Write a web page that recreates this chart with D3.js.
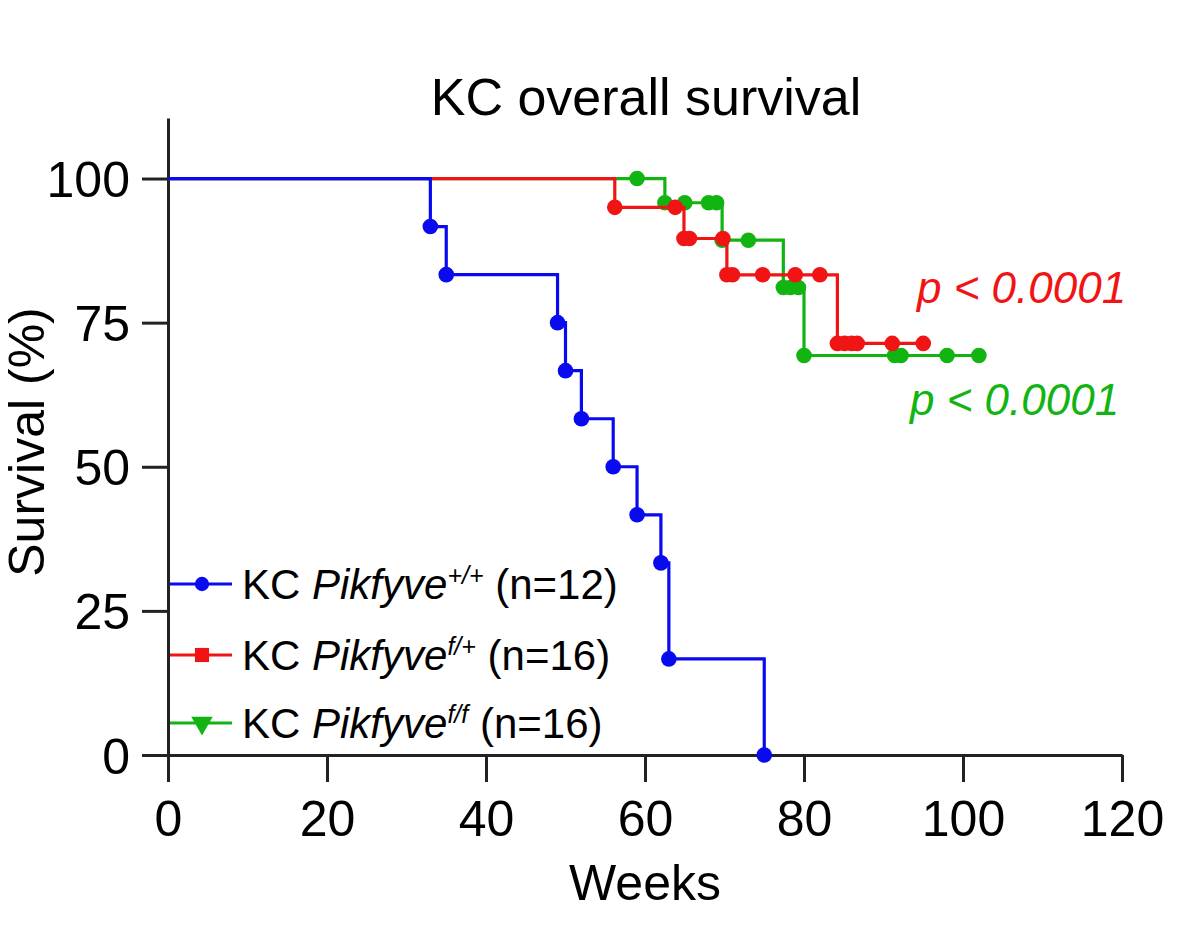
<!DOCTYPE html>
<html>
<head>
<meta charset="utf-8">
<script src="https://cdn.jsdelivr.net/npm/d3@7"></script>
<style>
  body { margin: 0; background: #fff; }
  svg text { font-family: "Liberation Sans", Arial, sans-serif; }
</style>
</head>
<body>
<div id="chart"></div>
<script>
// KC Pikfyve +/+ (all deaths, no censoring)
var blueTimes = [0, 33, 35, 49, 50, 52, 56, 59, 62, 63, 75];
var blueSurv  = [100, 91.67, 83.33, 75, 66.67, 58.33, 50, 41.67, 33.33, 16.67, 0];

// KC Pikfyve f/+
var redTimes = [0, 56.2, 64.9, 70.3, 84.2];
var redSurv  = [100, 95, 89.6, 83.3, 71.4];
var redEnd = 95;
var redCensor = [63.8, 65.6, 69.8, 71, 74.8, 78.9, 82, 85.1, 86, 86.7, 91.1, 95];

// KC Pikfyve f/f
var greenTimes = [0, 62.5, 69.7, 77.4, 80];
var greenSurv  = [100, 95.8, 89.3, 81.1, 69.3];
var greenEnd = 102;
var greenCensor = [59, 65, 68, 69, 73, 78.3, 79.3, 91.4, 92.2, 98, 102];

var xTicks = [0, 20, 40, 60, 80, 100, 120];
var yTicks = [0, 25, 50, 75, 100];

var legendLabels = ['+/+', 'f/+', 'f/f'];
var legendN = [12, 16, 16];

var svgWidth = 1200;
var svgHeight = 926;

var blue = '#0a0af0';
var red = '#f01414';
var green = '#12b412';

var x = d3.scaleLinear().domain([0, 120]).range([168, 1122]);
var y = d3.scaleLinear().domain([0, 110.5]).range([755, 118]);

var svg = d3.select('#chart').append('svg')
	.attr('width', svgWidth)
	.attr('height', svgHeight);

// title
svg.append('text')
	.attr('x', 646).attr('y', 115)
	.attr('text-anchor', 'middle')
	.style('font-size', '52px')
	.text('KC overall survival');

// axes
var xAxis = svg.append('g')
	.attr('transform', 'translate(0,' + y(0) + ')')
	.call(d3.axisBottom(x).tickValues(xTicks).tickSize(27).tickSizeOuter(0).tickPadding(18));

var yAxis = svg.append('g')
	.attr('transform', 'translate(' + x(0) + ',0)')
	.call(d3.axisLeft(y).tickValues(yTicks).tickSize(26).tickSizeOuter(0).tickPadding(12));

[xAxis, yAxis].forEach(function(a) {
	a.selectAll('path, line').attr('stroke', '#222').attr('stroke-width', 3);
	a.selectAll('text').attr('fill', '#000').style('font-size', '50px')
		.style('font-family', '"Liberation Sans", Arial, sans-serif');
});
xAxis.selectAll('text').attr('dy', '0.71em');
yAxis.selectAll('text').attr('dy', '0.36em');

// axis titles
svg.append('text')
	.attr('x', 645).attr('y', 900)
	.attr('text-anchor', 'middle')
	.style('font-size', '50px')
	.text('Weeks');

svg.append('text')
	.attr('transform', 'translate(44,442) rotate(-90)')
	.attr('text-anchor', 'middle')
	.style('font-size', '50px')
	.text('Survival (%)');

// survival curves
var line = d3.line()
	.x(function(d) { return x(d[0]); })
	.y(function(d) { return y(d[1]); })
	.curve(d3.curveStepAfter);

function stepPoints(times, surv, end) {
	var pts = times.map(function(t, i) { return [t, surv[i]]; });
	if (end !== undefined) pts.push([end, surv[surv.length - 1]]);
	return pts;
}

function survAt(times, surv, t) {
	var v = surv[0];
	for (var i = 0; i < times.length; i++) {
		if (times[i] <= t) v = surv[i];
	}
	return v;
}

function drawCurve(times, surv, end, censor, color) {
	var g = svg.append('g');
	g.append('path')
		.datum(stepPoints(times, surv, end))
		.attr('d', line)
		.attr('fill', 'none')
		.attr('stroke', color)
		.attr('stroke-width', 3.2);

	var pts = times.slice(1).map(function(t, i) { return [t, surv[i + 1]]; });
	censor.forEach(function(t) { pts.push([t, survAt(times, surv, t)]); });

	g.selectAll('circle').data(pts).enter().append('circle')
		.attr('cx', function(d) { return x(d[0]); })
		.attr('cy', function(d) { return y(d[1]); })
		.attr('r', 7.8)
		.attr('fill', color);
}

drawCurve(greenTimes, greenSurv, greenEnd, greenCensor, green);
drawCurve(redTimes, redSurv, redEnd, redCensor, red);
drawCurve(blueTimes, blueSurv, undefined, [], blue);

// p values
svg.append('text')
	.attr('x', 917).attr('y', 303)
	.attr('fill', red)
	.style('font-size', '44px').style('font-style', 'italic')
	.text('p < 0.0001');

svg.append('text')
	.attr('x', 910).attr('y', 415)
	.attr('fill', green)
	.style('font-size', '44px').style('font-style', 'italic')
	.text('p < 0.0001');

// legend
var legendColors = [blue, red, green];
var legendSymbols = [d3.symbolCircle, d3.symbolSquare, d3.symbolTriangle];
var legendY = [584, 655, 723];

var legend = svg.selectAll('.legend')
	.data(legendLabels)
	.enter()
	.append('g')
	.attr('class', 'legend')
	.attr('transform', function(d, i) { return 'translate(170,' + legendY[i] + ')'; });

legend.append('line')
	.attr('x1', 0).attr('x2', 62)
	.attr('stroke', function(d, i) { return legendColors[i]; })
	.attr('stroke-width', 3);

legend.append('path')
	.attr('transform', function(d, i) { return 'translate(32,0)' + (i == 2 ? ' rotate(180)' : ''); })
	.attr('d', function(d, i) { return d3.symbol().type(legendSymbols[i]).size(i == 0 ? 160 : 200)(); })
	.attr('fill', function(d, i) { return legendColors[i]; });

var lt = legend.append('text')
	.attr('x', 72).attr('y', 15)
	.style('font-size', '42px');

lt.append('tspan').text('KC ');
lt.append('tspan').style('font-style', 'italic').text('Pikfyve');
lt.append('tspan').style('font-style', 'italic').style('font-size', '25px')
	.attr('dy', -15).text(function(d) { return d; });
lt.append('tspan').attr('dy', 15).text(function(d, i) { return ' (n=' + legendN[i] + ')'; });
</script>
</body>
</html>
